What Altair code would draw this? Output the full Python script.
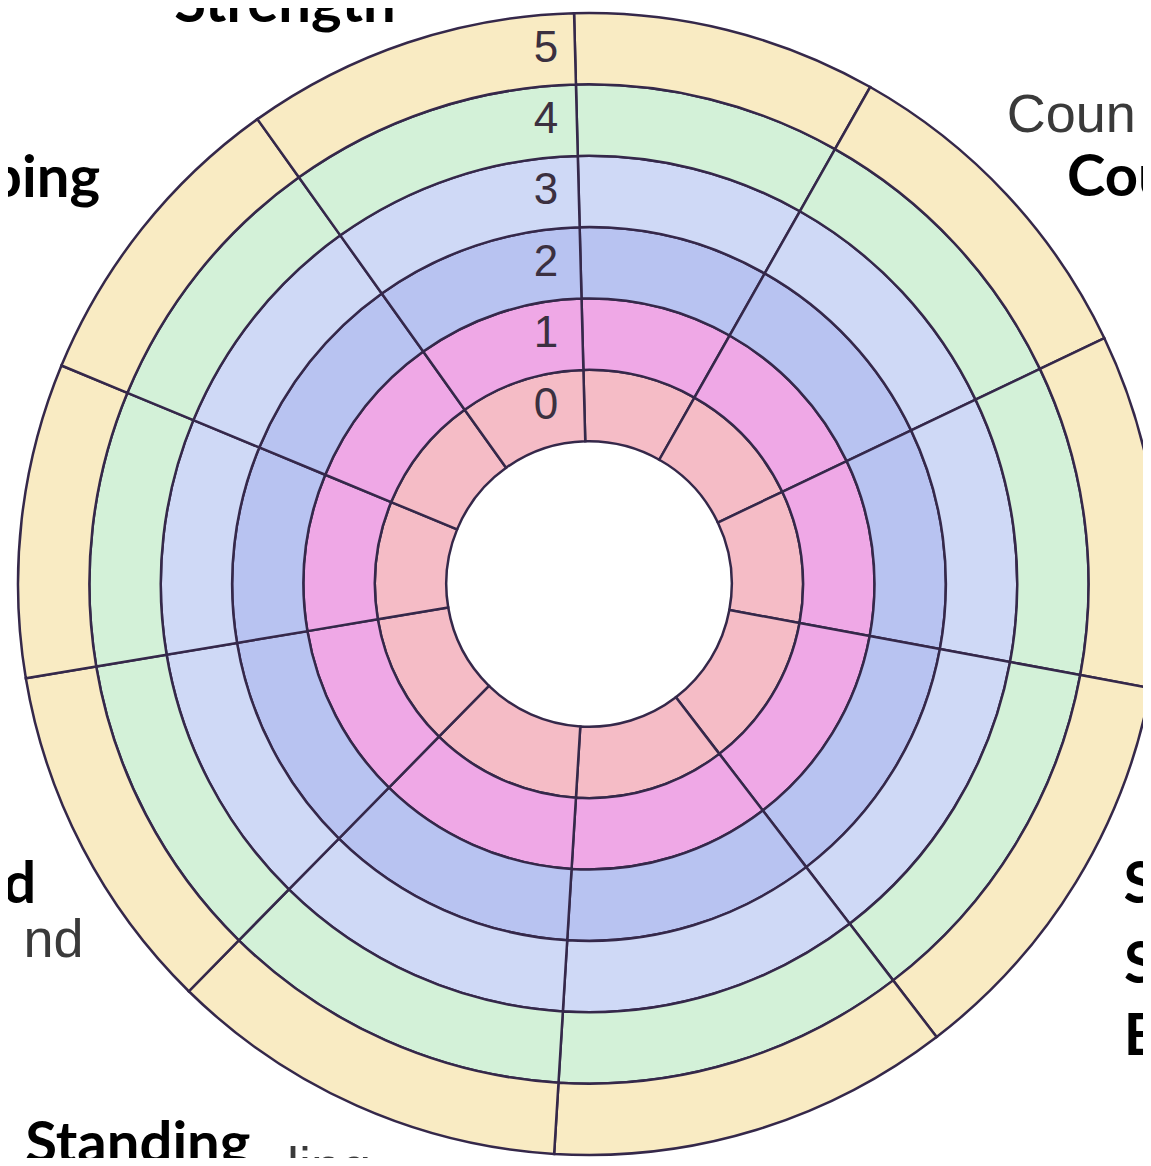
import math
import altair as alt
import pandas as pd

# ---------------- data ----------------
levels = [0, 1, 2, 3, 4, 5]
level_labels = ["0", "1", "2", "3", "4", "5"]
level_colors = ["#f5bcc6", "#efa8e6", "#b8c3f1", "#cfd9f6", "#d3f1d8", "#f9ebc3"]

# angular size of each of the 10 wedges (degrees), clockwise from the top spoke
segment_sizes = [31, 35, 36, 42, 41, 41, 36, 32, 32, 34]
start_angle = -1.5      # first spoke, degrees from north
hole = 2.0              # white centre radius, in ring units

# bold overlay labels (angle in degrees from north, distance in ring units)
label_text = ["Strength", "ping", "Cou", "d", "S", "S", "E", "Standing"]
label_theta = [-28.41, 308.4, 50.9, 240.02, 120.81, 126.71, 131.36, 224.25]
label_radius = [8.95, 8.74, 8.63, 8.94, 8.72, 9.35, 9.98, 11.32]
label_align = ["center", "right", "left", "right", "left", "left", "left", "left"]

# original grey labels that peek out from under the overlays
ghost_text = ["Coun", "nd", "ling"]
ghost_theta = [42.76, 236.6, 206.7]
ghost_radius = [8.62, 9.49, 9.42]

# ---------------- layout ----------------
W, H = 1135, 1150
CX, CY = 581, 576
R_OUT = 571
STROKE = "#35284a"

# ---------------- tables ----------------
rows = []
acc = 0
for seg, size in enumerate(segment_sizes):
    for lv in levels:
        rows.append({"seg": seg, "level": lv, "t0": acc, "t1": acc + size,
                     "ri": hole + lv, "ro": hole + lv + 1})
    acc += size
arc_df = pd.DataFrame(rows)

num_df = pd.DataFrame({"lab": level_labels,
                       "r": [hole + lv + 0.5 for lv in levels],
                       "th": [0.0] * len(levels)})

lab_df = pd.DataFrame({"text": label_text,
                       "th": [math.radians(a) for a in label_theta],
                       "r": label_radius,
                       "align": label_align})
ghost_df = pd.DataFrame({"text": ghost_text,
                         "th": [math.radians(a) for a in ghost_theta],
                         "r": ghost_radius})

start_rad = math.radians(start_angle)
theta_scale = alt.Scale(domain=[0, 360], range=[start_rad, start_rad + 2 * math.pi])
rscale = alt.Scale(type="linear", domain=[0, 8], range=[0, R_OUT], zero=True)

arcs = alt.Chart(arc_df).mark_arc(stroke=STROKE, strokeWidth=2.5).encode(
    theta=alt.Theta("t0:Q", scale=theta_scale),
    theta2="t1:Q",
    radius=alt.Radius("ro:Q", scale=rscale),
    radius2="ri:Q",
    color=alt.Color("level:O", scale=alt.Scale(domain=levels, range=level_colors), legend=None),
    x=alt.value(CX),
    y=alt.value(CY),
)

nums = alt.Chart(num_df).mark_text(
    font="Liberation Sans", fontSize=44, color="#3b3040",
    align="center", baseline="middle", dx=-43
).encode(
    theta=alt.Theta("th:Q", scale=None),
    radius=alt.Radius("r:Q", scale=rscale),
    text="lab:N",
    x=alt.value(CX),
    y=alt.value(CY),
)

ghosts = alt.Chart(ghost_df).mark_text(
    font="Liberation Sans", fontSize=54, color="#3a3a3a",
    align="left", baseline="alphabetic"
).encode(
    theta=alt.Theta("th:Q", scale=None),
    radius=alt.Radius("r:Q", scale=rscale),
    text="text:N",
    x=alt.value(CX),
    y=alt.value(CY),
)

label_layers = []
for al in ["center", "left", "right"]:
    label_layers.append(
        alt.Chart(lab_df[lab_df["align"] == al]).mark_text(
            font="Lato", fontWeight="bold", fontSize=58, color="#000000",
            align=al, baseline="alphabetic"
        ).encode(
            theta=alt.Theta("th:Q", scale=None),
            radius=alt.Radius("r:Q", scale=rscale),
            text="text:N",
            x=alt.value(CX),
            y=alt.value(CY),
        )
    )

chart = alt.layer(arcs, nums, ghosts, *label_layers).resolve_scale(
    theta="independent"
).properties(
    width=W, height=H, padding=0, autosize="none", background="white"
).configure_view(stroke=None)

chart.save("out.html", embed_options={"renderer": "svg", "actions": False})
